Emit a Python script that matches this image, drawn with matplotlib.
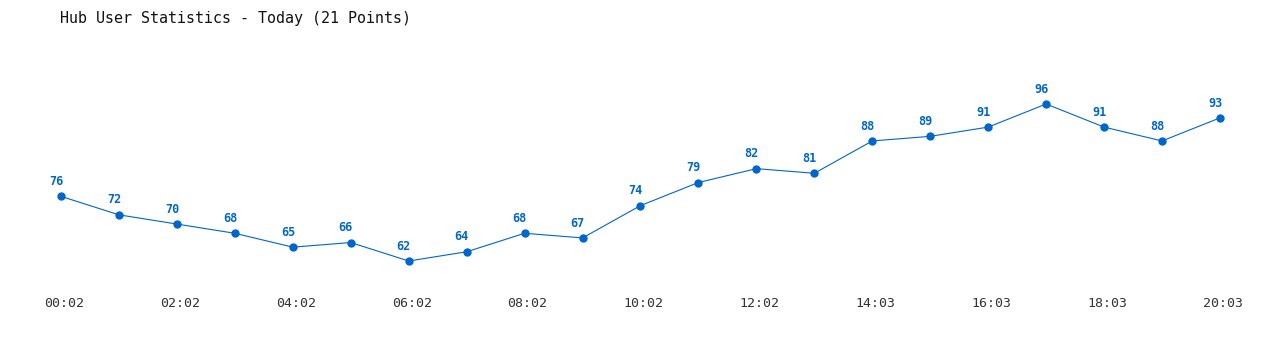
import matplotlib
matplotlib.use("Agg")
import matplotlib.pyplot as plt
import matplotlib.transforms as mtransforms

times = ["00:02", "01:02", "02:02", "03:02", "04:02", "05:02", "06:02", "07:02",
         "08:02", "09:02", "10:02", "11:02", "12:02", "13:02", "14:03", "15:03",
         "16:03", "17:03", "18:03", "19:03", "20:03"]
users = [76, 72, 70, 68, 65, 66, 62, 64, 68, 67, 74, 79, 82, 81, 88, 89, 91, 96, 91, 88, 93]

blue = "#0066cc"
mono = "DejaVu Sans Mono"

fig = plt.figure(figsize=(12.8, 3.5), dpi=100)
ax = fig.add_axes([40 / 1280, 60 / 350, 1200 / 1280, 230 / 350])

x = list(range(len(users)))
ax.plot(x, users, color=blue, linewidth=0.8, marker="o", markersize=5,
        clip_on=False)
for xi, v in zip(x, users):
    ax.annotate(str(v), (xi, v), xytext=(-3.5, 6), textcoords="offset points",
                ha="center", va="bottom", color=blue, fontsize=8.5,
                fontweight="bold", family=mono)

ax.set_xlim(-0.362, 20.345)
ax.set_ylim(55.72, 105.53)
ax.set_xticks(x[::2])
ax.set_xticklabels(times[::2], family=mono, fontsize=9.5, color="#333333")
ax.tick_params(axis="x", length=0, pad=5)
shift = mtransforms.ScaledTranslation(3 / 100, 0, fig.dpi_scale_trans)
for lbl in ax.get_xticklabels():
    lbl.set_transform(lbl.get_transform() + shift)
ax.set_yticks([])
for s in ax.spines.values():
    s.set_visible(False)

fig.text(60 / 1280, 1 - 18 / 350, "Hub User Statistics - Today (21 Points)",
         family=mono, fontsize=10.8, fontweight="medium", va="center",
         ha="left", color="#111111")

fig.savefig("out.png", dpi=100)
